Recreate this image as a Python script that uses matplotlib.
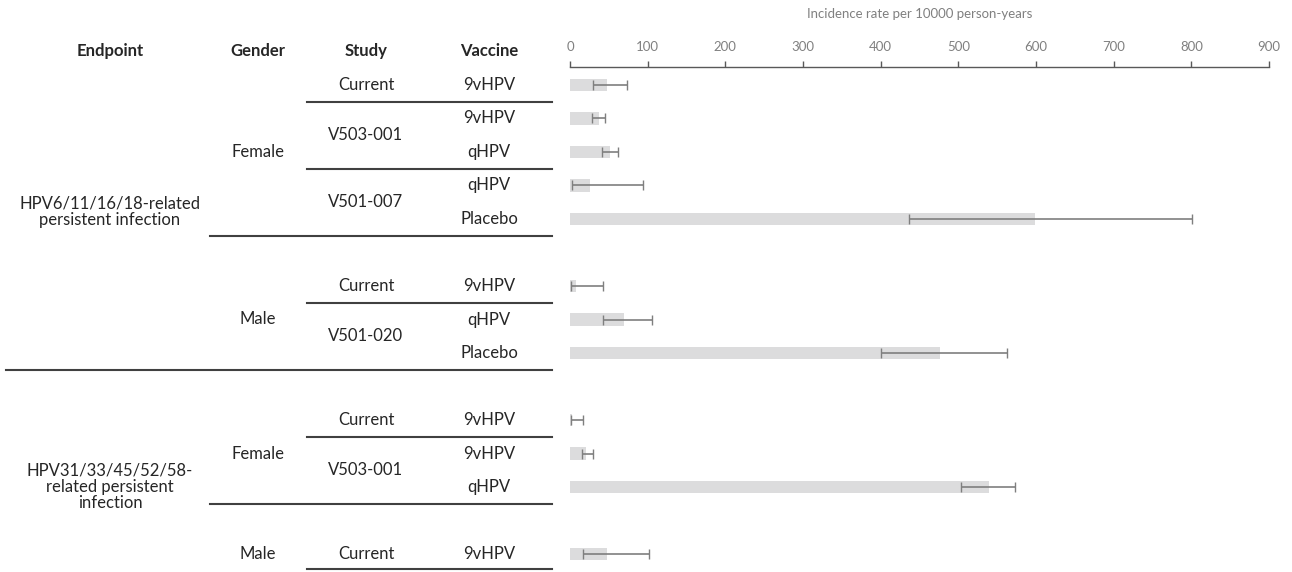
import numpy as np
import matplotlib
matplotlib.use("Agg")
import matplotlib.pyplot as plt
from matplotlib.transforms import blended_transform_factory

plt.rcParams["font.family"] = ["Lato", "DejaVu Sans"]

# table rows (row index from top, gaps between groups)
rows = [0, 1, 2, 3, 4, 6, 7, 8, 10, 11, 12, 14]
vaccines = ["9vHPV", "9vHPV", "qHPV", "qHPV", "Placebo",
            "9vHPV", "qHPV", "Placebo",
            "9vHPV", "9vHPV", "qHPV",
            "9vHPV"]
rate = [48, 37, 51, 26, 599, 8, 69, 477, 3, 21, 539, 47]
ci_low = [30, 28, 41, 3, 437, 1, 43, 400, 1, 15, 504, 17]
ci_high = [73, 45, 62, 94, 801, 43, 105, 563, 17, 29, 573, 102]

studies = [("Current", 0), ("V503-001", 1.5), ("V501-007", 3.5),
           ("Current", 6), ("V501-020", 7.5),
           ("Current", 10), ("V503-001", 11.5),
           ("Current", 14)]
genders = [("Female", 2), ("Male", 7), ("Female", 11), ("Male", 14)]
endpoints = [("HPV6/11/16/18-related\npersistent infection", 3.78),
             ("HPV31/33/45/52/58-\nrelated persistent\ninfection", 12)]
headers = ["Endpoint", "Gender", "Study", "Vaccine"]

W, H = 1292, 572
fig = plt.figure(figsize=(W / 100, H / 100), dpi=100)
ax = fig.add_axes([570 / W, 0, 699 / W, (H - 67) / H])

rate = np.array(rate)
err = [rate - np.array(ci_low), np.array(ci_high) - rate]
ax.barh(rows, rate, height=0.36, color="#dcdcdd")
ax.errorbar(rate, rows, xerr=err, fmt="none", ecolor="#7f7f7f",
            elinewidth=1.2, capsize=3.5, capthick=1)

ax.set_xlim(0, 900)
ax.set_ylim(14.537, -0.537)
ax.xaxis.tick_top()
ax.set_xticks(np.arange(0, 901, 100))
ax.set_yticks([])
for s in ["left", "right", "bottom"]:
    ax.spines[s].set_visible(False)
ax.spines["top"].set_color("#595959")
ax.spines["top"].set_linewidth(1.0)
ax.tick_params(axis="x", top=True, bottom=False, length=4, width=1,
               color="#595959", labelcolor="#808080", labelsize=9.5, pad=6)
ax.text(450, -2.12, "Incidence rate per 10000 person-years", ha="center",
        va="center", fontsize=9.5, color="#808080")

tr = blended_transform_factory(fig.transFigure, ax.transData)
txt = dict(transform=tr, ha="center", va="center", fontsize=12,
           color="#262626", clip_on=False)

col_x = [110 / W, 258 / W, 366 / W, 489 / W]
for x, h in zip(col_x, headers):
    ax.text(x, -1.0, h, fontweight="bold", **txt)
for label, r in endpoints:
    ax.text(col_x[0], r, label, linespacing=1.02, **txt)
for label, r in genders:
    ax.text(col_x[1], r, label, **txt)
for label, r in studies:
    ax.text(col_x[2], r, label, **txt)
for label, r in zip(vaccines, rows):
    ax.text(col_x[3], r, label, **txt)

# separator lines
x_end = 552 / W
line_kw = dict(transform=tr, clip_on=False, color="#404040", lw=1.5)
for r in [0.5, 2.5, 6.5, 10.5, 14.45]:
    ax.plot([307 / W, x_end], [r, r], **line_kw)
for r in [4.5, 12.5]:
    ax.plot([210 / W, x_end], [r, r], **line_kw)
ax.plot([6 / W, x_end], [8.5, 8.5], **line_kw)

fig.savefig("out.png", dpi=100)
